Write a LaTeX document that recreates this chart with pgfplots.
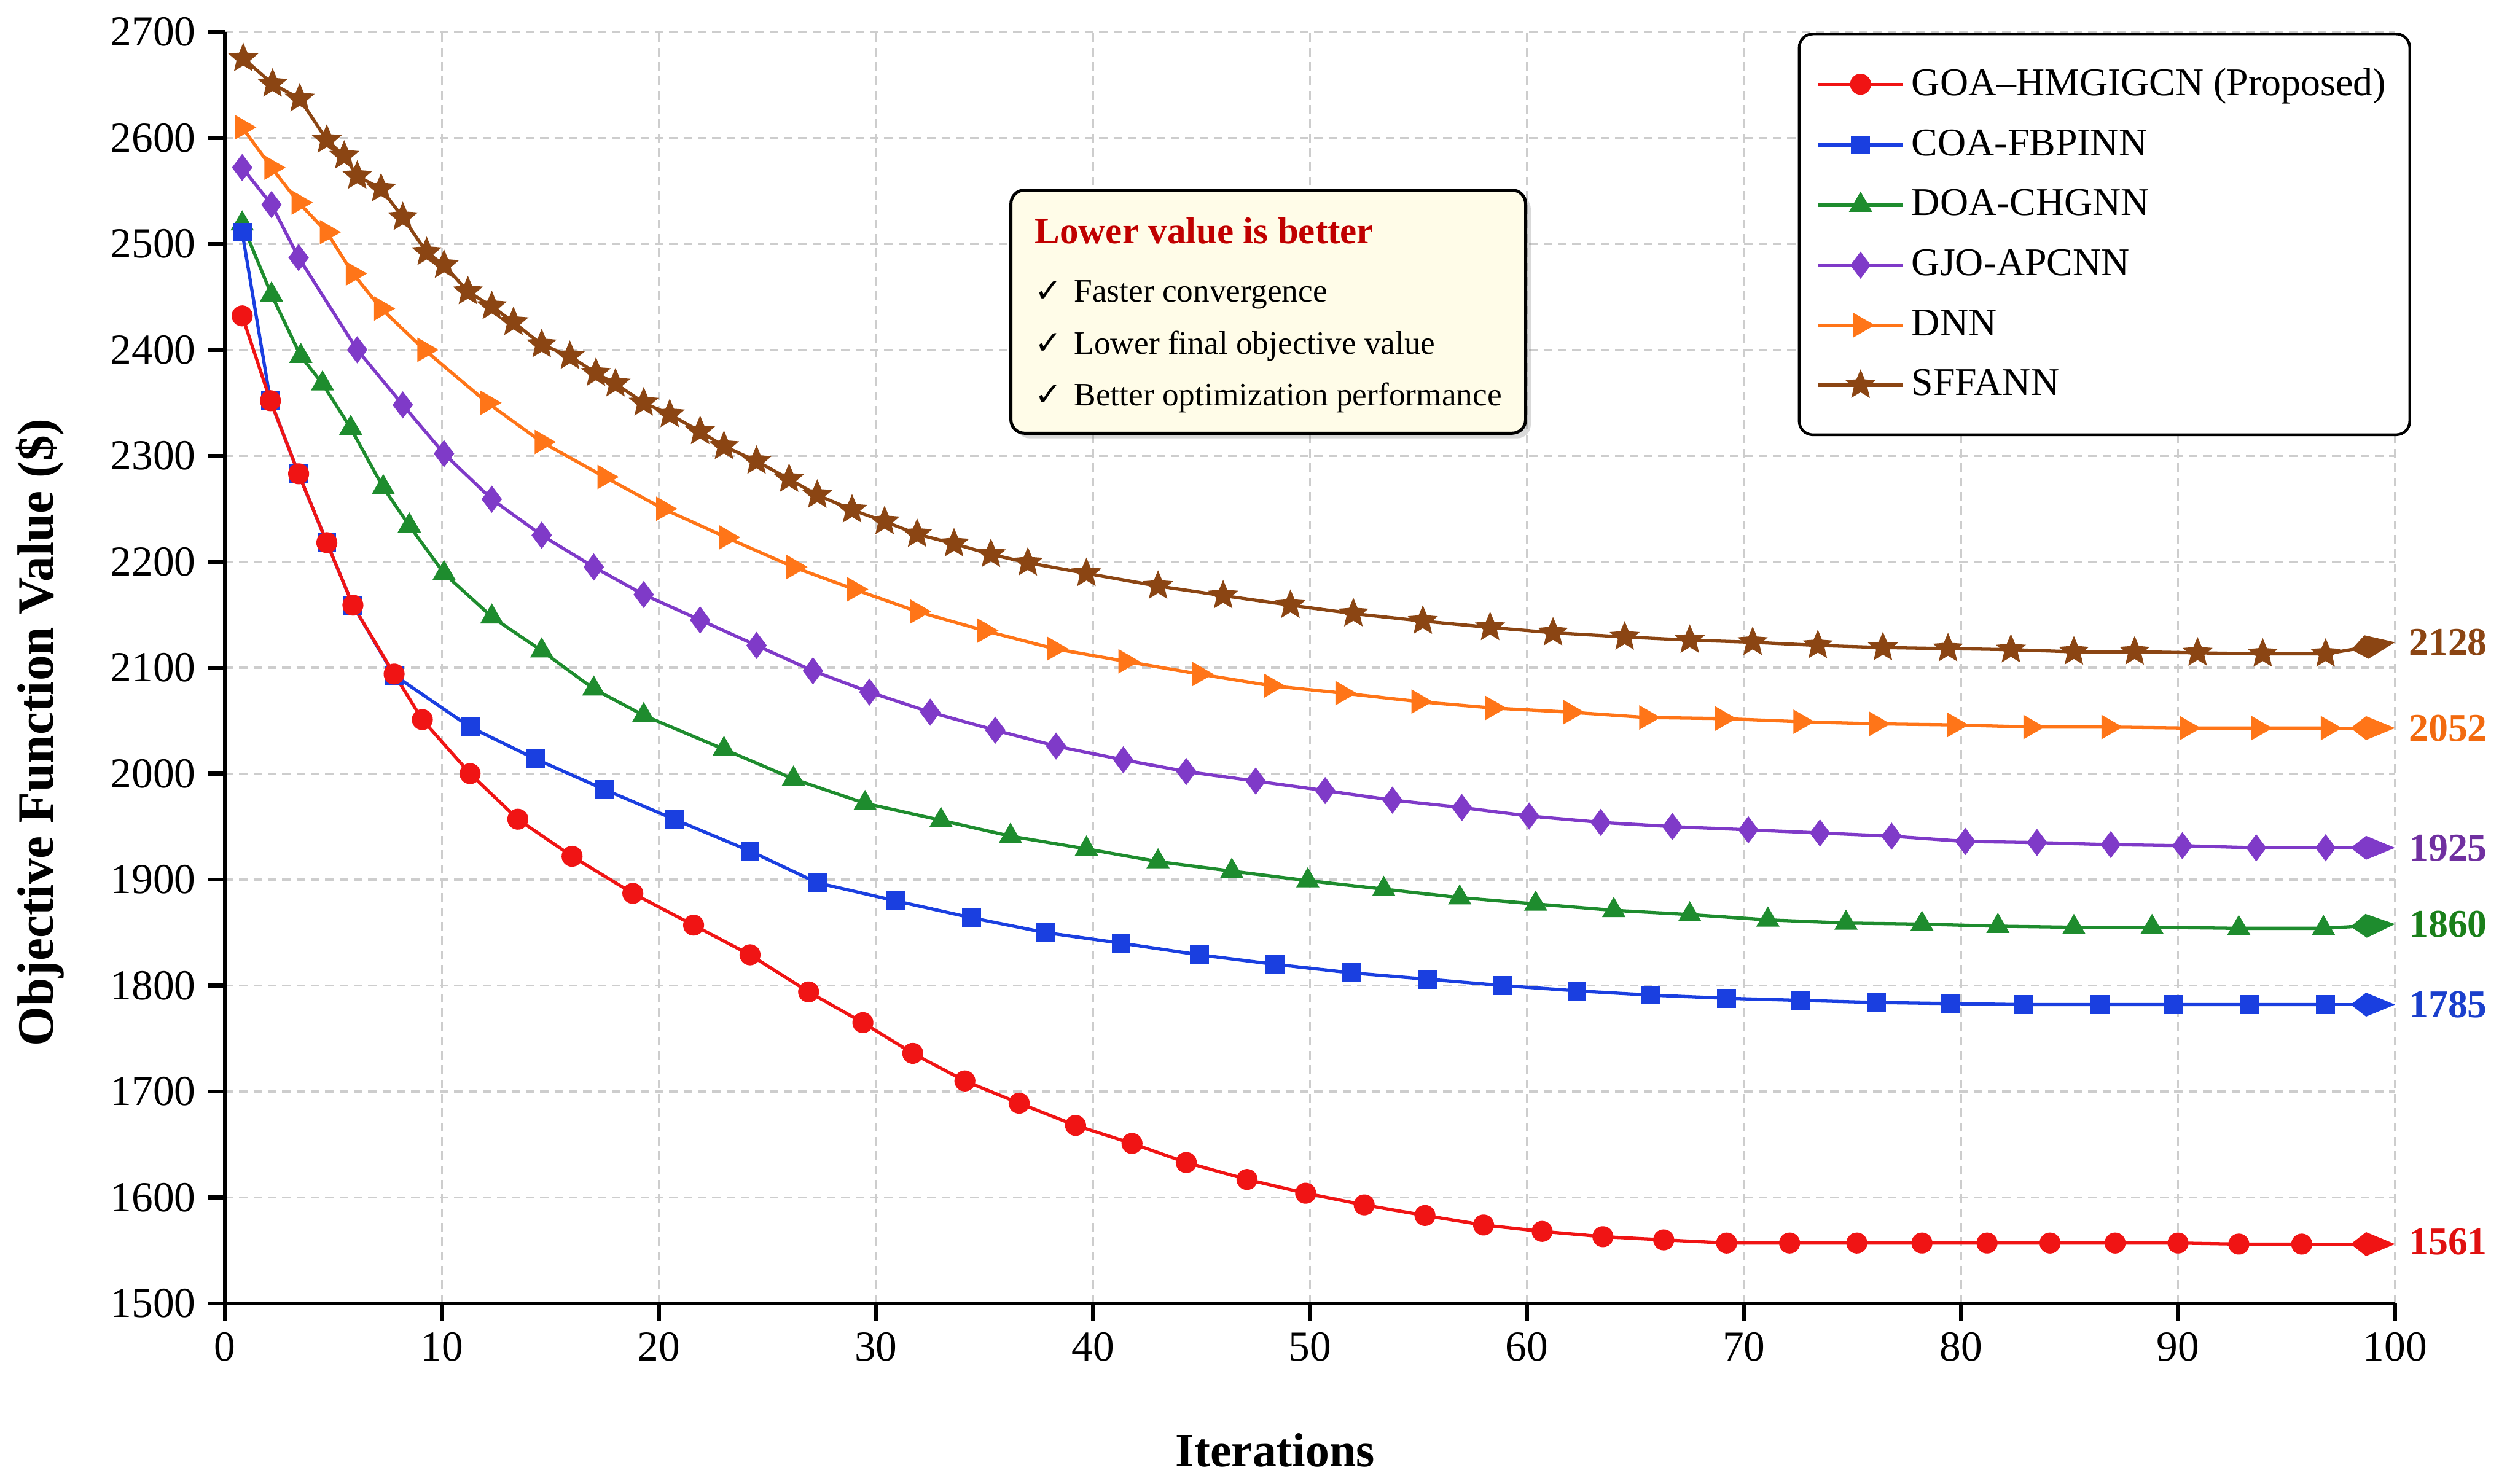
\documentclass[border=0pt]{standalone}
\usepackage{fontspec}
\setmainfont{Liberation Serif}
\newfontfamily\symfont{DejaVu Sans}
\usepackage{pgfplots}
\pgfplotsset{compat=1.18}
\usepackage{pgfplotstable}
\usetikzlibrary{arrows.meta,shadows}

\definecolor{cRed}{HTML}{F01414}
\definecolor{cBlue}{HTML}{1A3FE0}
\definecolor{cGreen}{HTML}{1E8C2E}
\definecolor{cPurple}{HTML}{7F3AC8}
\definecolor{cOrange}{HTML}{FF7518}
\definecolor{cBrown}{HTML}{8B4513}
\definecolor{tRedC}{HTML}{E01010}
\definecolor{tBlueC}{HTML}{1A3FCC}
\definecolor{tGreenC}{HTML}{1A7F1A}
\definecolor{tPurpleC}{HTML}{7030A0}
\definecolor{tOrangeC}{HTML}{F26A0F}
\definecolor{tBrownC}{HTML}{8B4513}
\definecolor{cream}{HTML}{FFFCE8}
\definecolor{darkred}{HTML}{C00000}
\definecolor{gridc}{RGB}{205,205,205}

\pgfdeclareplotmark{fstar}{%
  \pgfpathmoveto{\pgfpointpolar{90}{\pgfplotmarksize}}%
  \pgfpathlineto{\pgfpointpolar{126}{0.45\pgfplotmarksize}}%
  \pgfpathlineto{\pgfpointpolar{162}{\pgfplotmarksize}}%
  \pgfpathlineto{\pgfpointpolar{198}{0.45\pgfplotmarksize}}%
  \pgfpathlineto{\pgfpointpolar{234}{\pgfplotmarksize}}%
  \pgfpathlineto{\pgfpointpolar{270}{0.45\pgfplotmarksize}}%
  \pgfpathlineto{\pgfpointpolar{306}{\pgfplotmarksize}}%
  \pgfpathlineto{\pgfpointpolar{342}{0.45\pgfplotmarksize}}%
  \pgfpathlineto{\pgfpointpolar{18}{\pgfplotmarksize}}%
  \pgfpathlineto{\pgfpointpolar{54}{0.45\pgfplotmarksize}}%
  \pgfpathclose
  \pgfusepathqfillstroke
}

\pgfplotstableread{
x y
0.8 2432
2.1 2352
3.4 2283
4.7 2218
5.9 2159
7.8 2094
9.1 2051
11.3 2000
13.5 1957
16.0 1922
18.8 1887
21.6 1857
24.2 1829
26.9 1794
29.4 1765
31.7 1736
34.1 1710
36.6 1689
39.2 1668
41.8 1651
44.3 1633
47.1 1617
49.8 1604
52.5 1593
55.3 1583
58.0 1574
60.7 1568
63.5 1563
66.3 1560
69.2 1557
72.1 1557
75.2 1557
78.2 1557
81.2 1557
84.1 1557
87.1 1557
90.0 1557
92.8 1556
95.7 1556
}\tRed

\pgfplotstableread{
x y
0.8 2511
2.1 2352
3.4 2283
4.7 2218
5.9 2159
7.8 2093
11.3 2044
14.3 2014
17.5 1985
20.7 1957
24.2 1927
27.3 1897
30.9 1880
34.4 1864
37.8 1850
41.3 1840
44.9 1829
48.4 1820
51.9 1812
55.4 1806
58.9 1800
62.3 1795
65.7 1791
69.2 1788
72.6 1786
76.1 1784
79.5 1783
82.9 1782
86.4 1782
89.8 1782
93.3 1782
96.8 1782
}\tBlue

\pgfplotstableread{
x y
0.8 2519
2.15 2452
3.5 2394
4.5 2368
5.8 2326
7.3 2270
8.5 2234
10.1 2189
12.3 2148
14.6 2116
17.0 2080
19.3 2055
23.0 2023
26.2 1995
29.5 1972
33.0 1956
36.2 1941
39.7 1929
43.0 1917
46.4 1908
49.9 1899
53.4 1891
56.9 1883
60.4 1877
64.0 1871
67.5 1867
71.1 1862
74.7 1859
78.2 1858
81.7 1856
85.2 1855
88.8 1855
92.8 1854
96.7 1854
}\tGreen

\pgfplotstableread{
x y
0.8 2572
2.15 2537
3.4 2487
6.1 2400
8.2 2348
10.1 2302
12.3 2259
14.6 2225
17.0 2195
19.3 2169
21.9 2145
24.5 2121
27.1 2097
29.7 2077
32.5 2058
35.5 2041
38.3 2026
41.4 2013
44.3 2002
47.5 1993
50.7 1984
53.8 1975
57.0 1968
60.1 1960
63.4 1954
66.7 1950
70.2 1947
73.5 1944
76.8 1941
80.2 1936
83.5 1935
86.9 1933
90.2 1932
93.6 1930
96.8 1930
}\tPurple

\pgfplotstableread{
x y
0.8 2610
2.15 2572
3.4 2539
4.7 2511
5.9 2472
7.2 2439
9.2 2400
12.1 2350
14.6 2313
17.5 2280
20.2 2250
23.1 2223
26.2 2195
29.0 2174
31.9 2153
35.0 2135
38.2 2118
41.5 2106
44.9 2094
48.2 2083
51.5 2076
55.0 2068
58.4 2062
62.0 2058
65.5 2053
69.0 2052
72.6 2049
76.1 2047
79.7 2046
83.2 2044
86.8 2044
90.4 2043
93.7 2043
96.9 2043
}\tOrange

\pgfplotstableread{
x y
0.85 2675
2.2 2651
3.45 2637
4.7 2598
5.5 2583
6.1 2564
7.2 2552
8.2 2525
9.3 2492
10.1 2480
11.2 2455
12.3 2441
13.3 2426
14.6 2405
15.9 2394
17.1 2378
18.0 2368
19.3 2350
20.5 2339
21.9 2323
23.0 2309
24.5 2295
26.0 2278
27.3 2263
28.9 2249
30.4 2238
31.9 2226
33.6 2217
35.3 2207
37.0 2199
39.7 2189
43.0 2177
46.0 2168
49.1 2159
52.0 2151
55.2 2144
58.3 2138
61.2 2133
64.5 2129
67.5 2126
70.4 2124
73.4 2121
76.4 2119
79.4 2118
82.3 2117
85.2 2115
88.0 2115
90.9 2114
93.9 2113
96.8 2113
}\tBrown

\tikzset{endtip/.style={-{Kite[length=13pt,width=7pt,inset=4.5pt]}},
  endlab/.style={anchor=west, inner sep=0pt, font=\bfseries\fontsize{11.5}{14}\selectfont}}

\begin{document}
\begin{tikzpicture}
\useasboundingbox (-65.88pt,-52.74pt) rectangle (666.36pt,381.96pt);
\begin{axis}[
  at={(0pt,0pt)}, anchor=south west,
  scale only axis, width=635.9pt, height=372.6pt,
  xmin=0, xmax=100, ymin=1500, ymax=2700,
  xtick={0,10,...,100}, ytick={1500,1600,...,2700},
  axis x line*=bottom, axis y line*=left,
  every outer x axis line/.append style={-},
  every outer y axis line/.append style={-},
  every inner x axis line/.append style={-},
  every inner y axis line/.append style={-},
  axis line style={line width=1.15pt, black},
  tick align=outside, major tick length=5pt,
  tick style={line width=1.1pt, black},
  grid=major,
  grid style={line width=0.6pt, gridc, dash pattern=on 2.6pt off 1.6pt},
  /pgf/number format/assume math mode=true,
  /pgf/number format/1000 sep={},
  scaled ticks=false,
  tick label style={font=\fontsize{12.5}{15}\selectfont},
  xlabel={Iterations},
  ylabel={Objective Function Value (\$)},
  xlabel style={font=\bfseries\fontsize{14}{17}\selectfont, at={(axis description cs:0.484,0)}, anchor=center, yshift=-43pt},
  ylabel style={font=\bfseries\fontsize{15}{18}\selectfont, at={(axis description cs:-0.085,0.449)}, anchor=center},
  clip=false,
  reverse legend,
  legend cell align=left,
  legend style={at={(rel axis cs:1.0074,0.9995)}, anchor=north east, draw=black, line width=0.8pt, rounded corners=4pt, fill=white, font=\fontsize{11.5}{13.8}\selectfont, row sep=4.5pt, inner xsep=5pt, inner ysep=8pt},
  legend image code/.code={\draw[mark repeat=2,mark phase=2,#1] plot coordinates {(0pt,0pt) (12.5pt,0pt) (25pt,0pt)};},
]
\addplot[cBrown, line width=0.95pt, mark=fstar, mark size=3.4pt, mark options={solid, sharp corners, fill=cBrown}] table {\tBrown};
\addlegendentry{SFFANN}
\addplot[cOrange, line width=0.95pt, mark=triangle*, mark size=3.2pt, mark options={solid, sharp corners, fill=cOrange, rotate=-90}] table {\tOrange};
\addlegendentry{DNN}
\addplot[cPurple, line width=0.95pt, mark=diamond*, mark size=3.2pt, mark options={solid, sharp corners, fill=cPurple}] table {\tPurple};
\addlegendentry{GJO-APCNN}
\addplot[cGreen, line width=0.95pt, mark=triangle*, mark size=3pt, mark options={solid, sharp corners, fill=cGreen}] table {\tGreen};
\addlegendentry{DOA-CHGNN}
\addplot[cBlue, line width=0.95pt, mark=square*, mark size=2.3pt, mark options={solid, sharp corners, fill=cBlue}] table {\tBlue};
\addlegendentry{COA-FBPINN}
\addplot[cRed, line width=0.95pt, mark=*, mark size=2.6pt, mark options={solid, fill=cRed}] table {\tRed};
\addlegendentry{GOA--HMGIGCN (Proposed)}

\addplot[cBrown, line width=0.95pt, endtip, forget plot] coordinates {(96.8,2113) (100,2124)};
\addplot[cOrange, line width=0.95pt, endtip, forget plot] coordinates {(96.9,2043) (100,2043)};
\addplot[cPurple, line width=0.95pt, endtip, forget plot] coordinates {(96.8,1930) (100,1930)};
\addplot[cGreen, line width=0.95pt, endtip, forget plot] coordinates {(96.7,1854) (100,1858)};
\addplot[cBlue, line width=0.95pt, endtip, forget plot] coordinates {(96.8,1782) (100,1782)};
\addplot[cRed, line width=0.95pt, endtip, forget plot] coordinates {(95.7,1556) (100,1556)};

\node[endlab, text=tBrownC] at (axis cs:100.6,2124) {2128};
\node[endlab, text=tOrangeC] at (axis cs:100.6,2043) {2052};
\node[endlab, text=tPurpleC] at (axis cs:100.6,1930) {1925};
\node[endlab, text=tGreenC] at (axis cs:100.6,1858) {1860};
\node[endlab, text=tBlueC] at (axis cs:100.6,1782) {1785};
\node[endlab, text=tRedC] at (axis cs:100.6,1558) {1561};

\node[draw=black, line width=0.9pt, rounded corners=4pt, fill=cream,
  drop shadow={opacity=0.3, shadow xshift=1.5pt, shadow yshift=-1.5pt},
  anchor=north west, inner xsep=7pt, inner ysep=6pt, align=left,
  font=\fontsize{9.6}{15.2}\selectfont]
  at (rel axis cs:0.3615,0.8768)
  {{\color{darkred}\bfseries\fontsize{11}{13}\selectfont\rule{0pt}{9.6pt}Lower value is better}\\[2pt]
   {\symfont ✓}\hspace{3.5pt}Faster convergence\\
   {\symfont ✓}\hspace{3.5pt}Lower final objective value\\
   {\symfont ✓}\hspace{3.5pt}Better optimization performance};
\end{axis}
\end{tikzpicture}
\end{document}
